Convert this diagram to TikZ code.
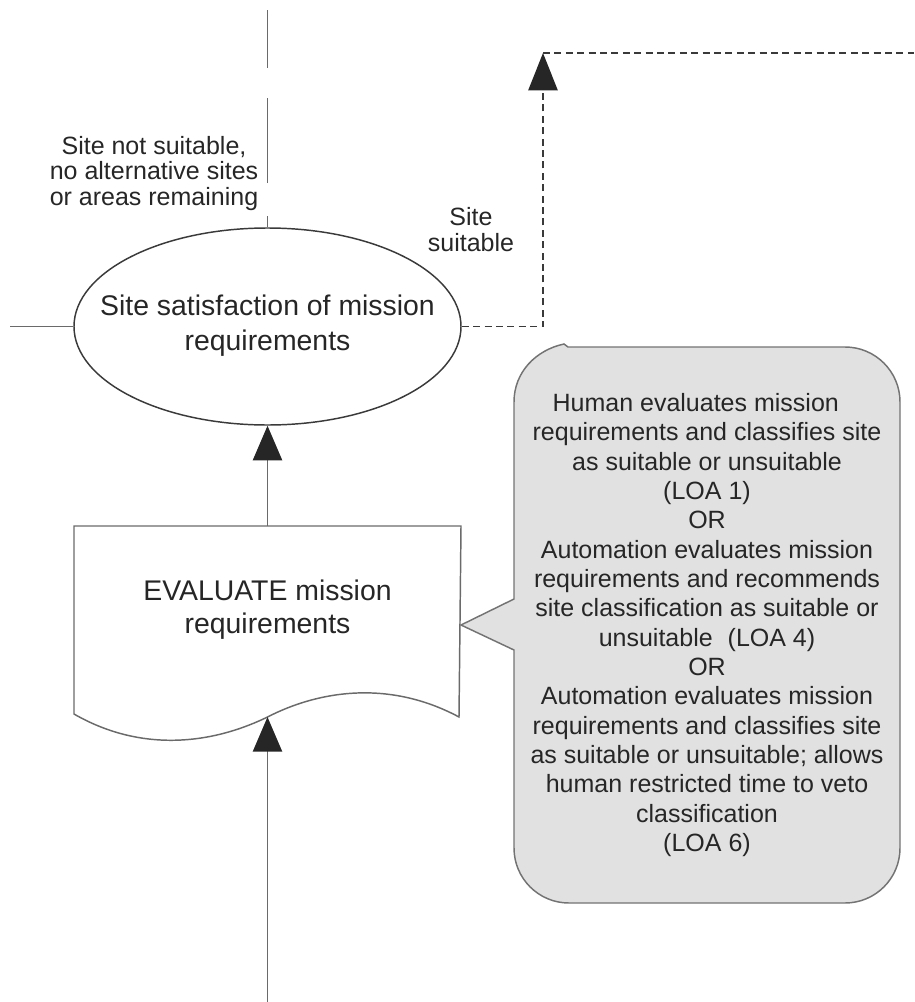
\documentclass[tikz,border=0pt]{standalone}
\usepackage{fontspec}
\setmainfont{Liberation Sans}
\usetikzlibrary{arrows.meta,shapes.geometric}
\definecolor{ink}{HTML}{262626}
\definecolor{wire}{HTML}{6A6A6A}
\definecolor{rim}{HTML}{3A3A3A}
\definecolor{bubble}{HTML}{E1E1E1}
\definecolor{bubbleedge}{HTML}{737373}

\begin{document}
\begin{tikzpicture}[x=0.75pt,y=-0.75pt,
  wire/.style={draw=wire,line width=1.1pt},
  flow/.style={wire,-{Triangle[length=26pt,width=22pt,color=ink]}},
  dashwire/.style={draw=rim,line width=1pt,dash pattern=on 5.25pt off 3.3pt},
  dashflow/.style={dashwire,-{Triangle[length=28pt,width=22pt,color=ink]}},
  bigtext/.style={text=ink,align=center,font=\fontsize{21.3}{26.25}\selectfont},
  smalltext/.style={text=ink,align=center,font=\fontsize{18.75}{19.1}\selectfont},
  bubbletext/.style={text=ink,align=center,font=\fontsize{18.75}{22}\selectfont}]
\useasboundingbox (0,0) rectangle (914,1002);

% decision ellipse
\node[ellipse,draw=rim,line width=1.1pt,fill=white,inner sep=0pt,
      minimum width=290.25pt,minimum height=147.75pt] (sat) at (267.5,326.5) {};
\node[bigtext] (sattext) at (267.5,325.5) {Site satisfaction of mission\\requirements};

% document shape with wavy lower edge
\coordinate (doctop) at (267.5,526);
\coordinate (docbottom) at (267.5,717);
\draw[wire,fill=white] (74,526) -- (461,526) -- (459,717)
  .. controls (390,680) and (320,690) .. (docbottom)
  .. controls (210,745) and (140,752) .. (74,714) -- cycle;
\node[bigtext,font=\fontsize{21.3}{24.75}\selectfont] (doctext) at (267.5,610) {EVALUATE mission\\requirements};

% callout with pointer towards the document (rounded corners of radius 55)
\coordinate (tip) at (461,625);
\draw[draw=bubbleedge,line width=1.1pt,fill=bubble]
  (514,599) -- (tip) -- (514,650) -- (514,848)
  .. controls (514,878.4) and (538.6,903) .. (569,903) -- (845,903)
  .. controls (875.4,903) and (900,878.4) .. (900,848) -- (900,402)
  .. controls (900,371.6) and (875.4,347) .. (845,347) -- (568,347) -- (564,344)
  .. controls (536,350) and (514,372) .. (514,402) -- cycle;
\node[bubbletext] (loa) at (707,625) {Human evaluates mission\hspace*{0.9em}\\
requirements and classifies site\\
as suitable or unsuitable\hspace*{0.9em}\\
(LOA 1)\\
OR\\
Automation evaluates mission\\
requirements and recommends\\
site classification as suitable or\\
unsuitable\hspace{0.6em}(LOA 4)\\
OR\\
Automation evaluates mission\\
requirements and classifies site\\
as suitable or unsuitable; allows\\
human restricted time to veto\\
classification\\
(LOA 6)};

% incoming flow from below and flow into the decision
\coordinate (entry) at (267.5,1002);
\draw[flow] (entry) -- (docbottom);
\draw[flow] (doctop) -- (sat.south);

% upward exit, interrupted around its label
\coordinate (upa) at (267.5,216);
\coordinate (upb) at (267.5,183);
\coordinate (upc) at (267.5,98);
\coordinate (upd) at (267.5,68);
\coordinate (upe) at (267.5,10);
\draw[wire] (sat.north) -- (upa);
\draw[wire] (upb) -- (upc);
\draw[wire] (upd) -- (upe);
\node[smalltext] (nosite) at (154,173.5) {Site not suitable,\\no alternative sites\\or areas remaining};

% left exit
\coordinate (leftend) at (10,326.5);
\draw[wire] (sat.west) -- (leftend);

% dashed exit for a suitable site
\coordinate (bend) at (543,326.5);
\coordinate (corner) at (543,53);
\coordinate (rightend) at (914,53);
\draw[dashflow] (sat.east) -- (bend) -- (corner);
\draw[dashwire] (corner) -- (rightend);
\node[smalltext,font=\fontsize{18.75}{19.5}\selectfont] (suit) at (471,230) {Site\\suitable};
\end{tikzpicture}
\end{document}
